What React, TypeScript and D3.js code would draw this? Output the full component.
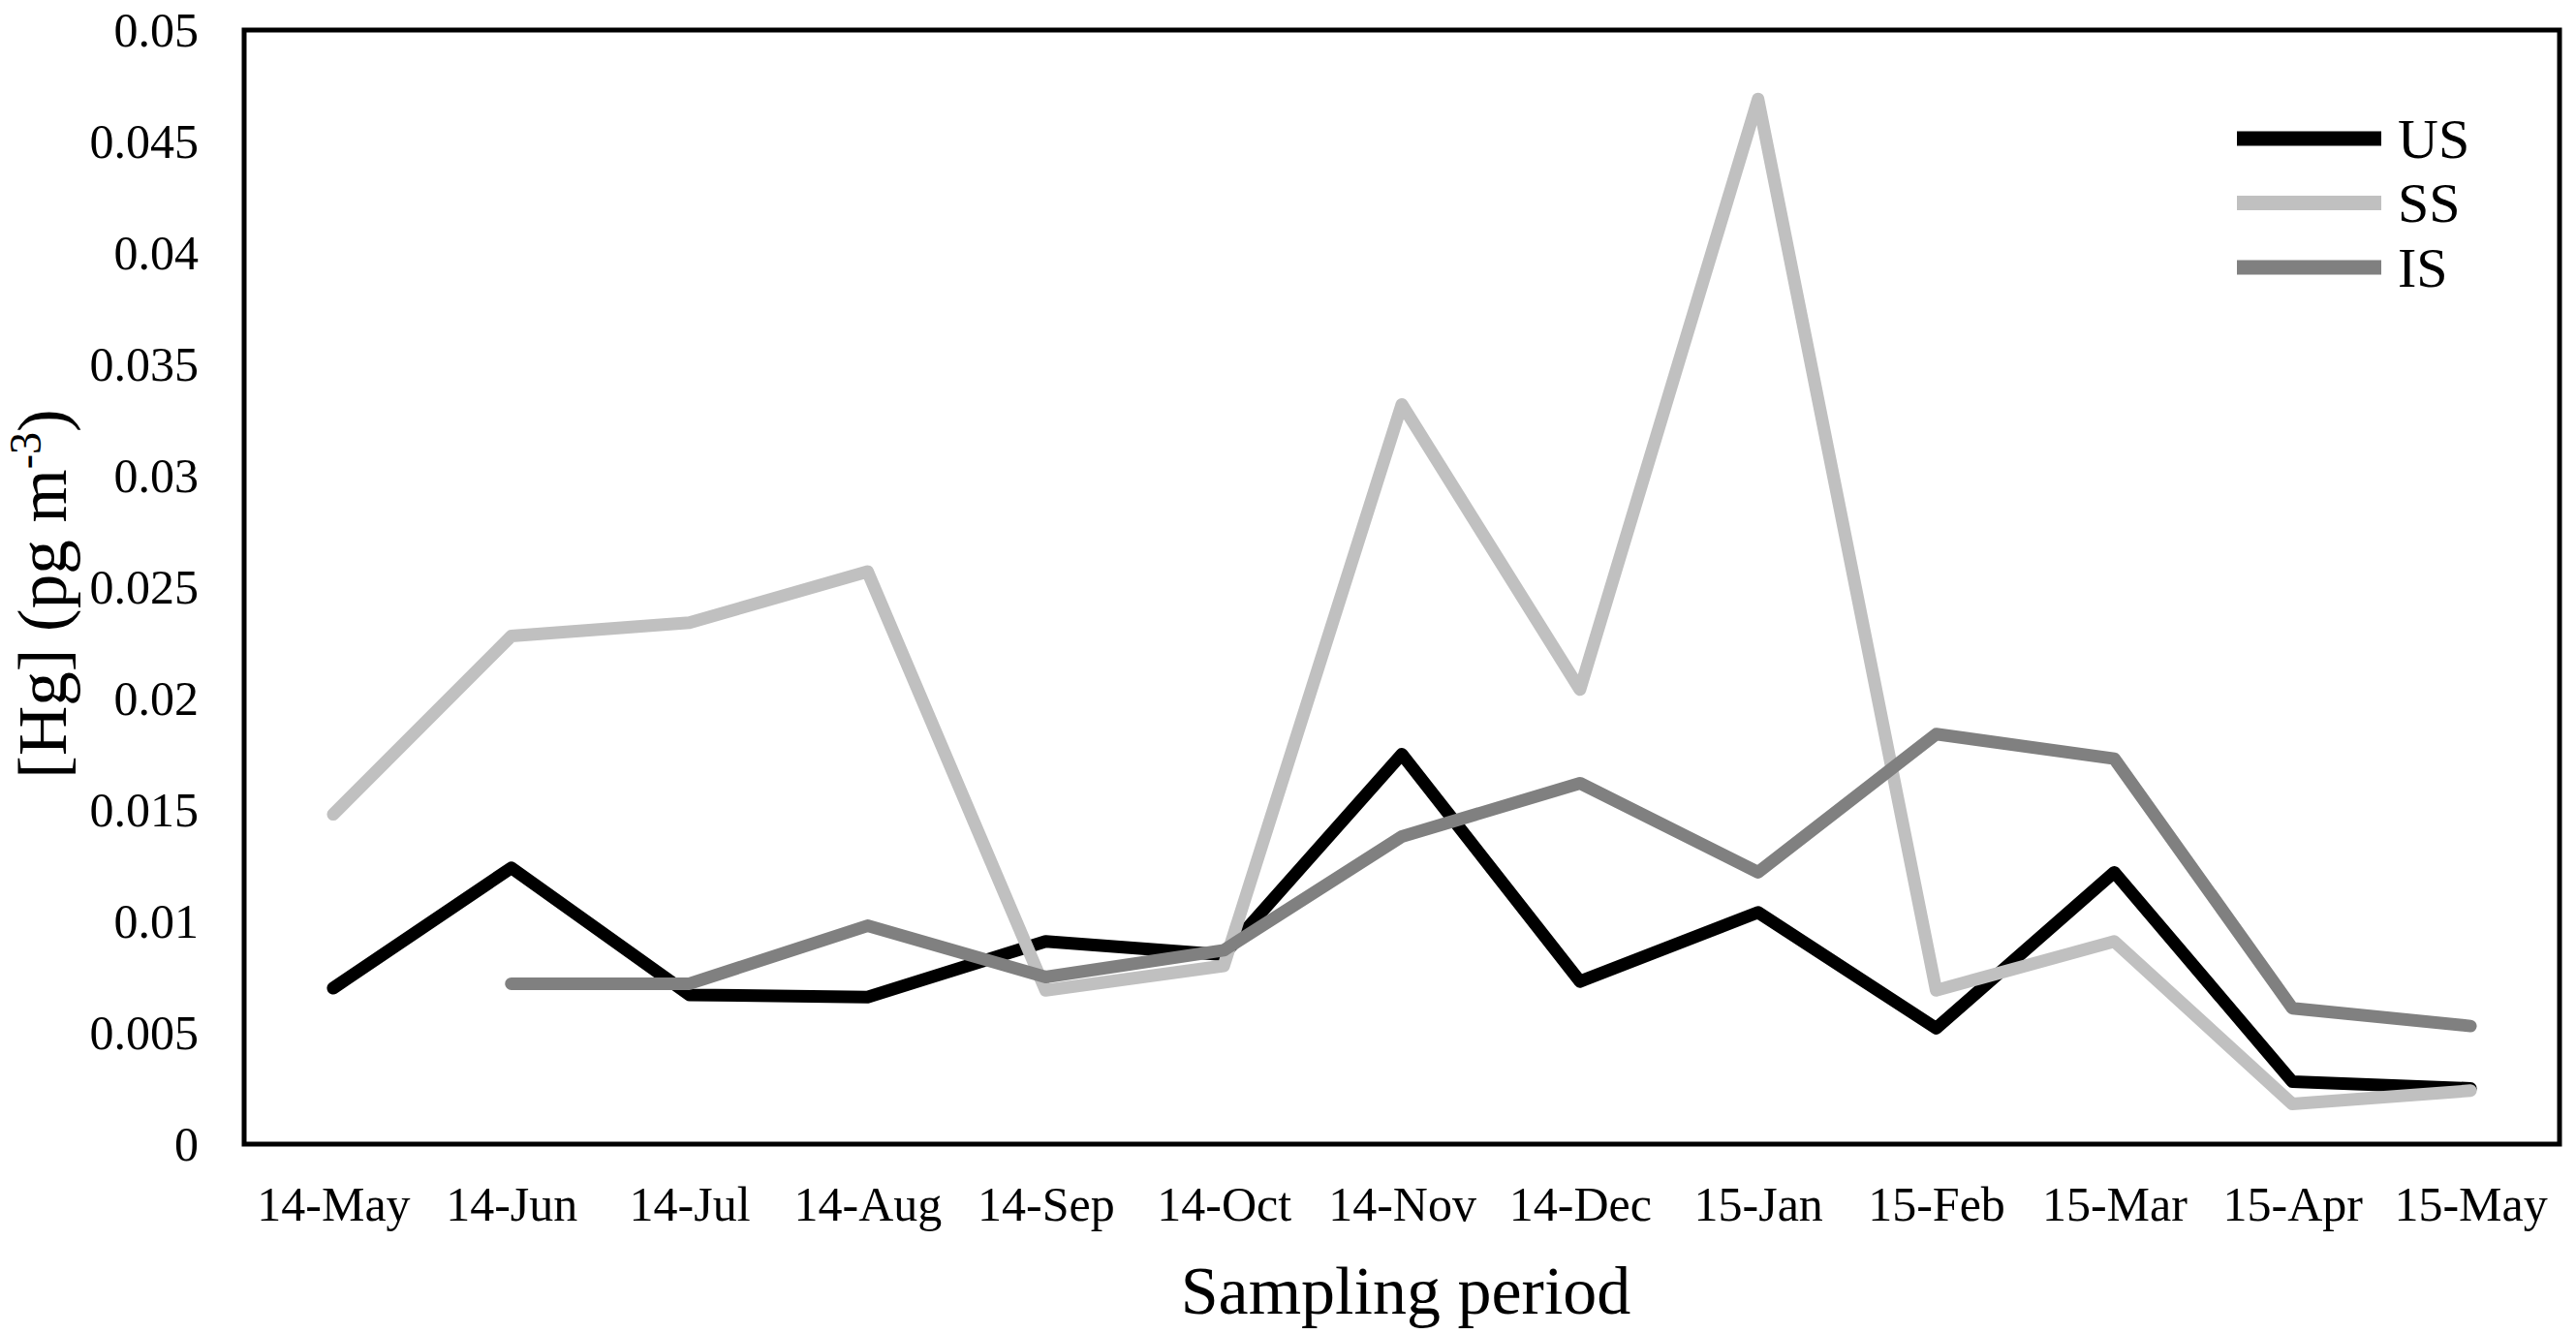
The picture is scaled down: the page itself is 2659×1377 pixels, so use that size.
import { axisBottom, axisLeft, line, scaleLinear, scalePoint, select } from 'd3';
import React, { useEffect, useRef } from 'react';

const WIDTH = 2659;
const HEIGHT = 1377;
const PLOT_LEFT = 252;
const PLOT_RIGHT = 2642;
const PLOT_TOP = 31;
const PLOT_BOTTOM = 1181;
const FONT = '"Liberation Serif", "Times New Roman", serif';

const categories = [
  '14-May', '14-Jun', '14-Jul', '14-Aug', '14-Sep', '14-Oct', '14-Nov',
  '14-Dec', '15-Jan', '15-Feb', '15-Mar', '15-Apr', '15-May',
];

const usValues = [
  0.007, 0.0124, 0.0067, 0.0066, 0.0091, 0.0085, 0.0175,
  0.0073, 0.0104, 0.0052, 0.0122, 0.0028, 0.0025,
];
const ssValues = [
  0.0148, 0.0228, 0.0234, 0.0257, 0.0069, 0.008, 0.0332,
  0.0204, 0.0469, 0.0069, 0.0091, 0.0018, 0.0024,
];
const isValues: (number | null)[] = [
  null, 0.0072, 0.0072, 0.0098, 0.0075, 0.0087, 0.0138,
  0.0162, 0.0122, 0.0184, 0.0173, 0.0061, 0.0053,
];

const seriesNames = ['US', 'SS', 'IS'];
const seriesColors = ['#000000', '#c0c0c0', '#808080'];

const yTicks = [0, 0.005, 0.01, 0.015, 0.02, 0.025, 0.03, 0.035, 0.04, 0.045, 0.05];
const yTickLabels = ['0', '0.005', '0.01', '0.015', '0.02', '0.025', '0.03', '0.035', '0.04', '0.045', '0.05'];

const App = (): JSX.Element => {
  const ref = useRef<SVGSVGElement>(null);

  useEffect(() => {
    if (ref.current === null) return;
    document.body.style.margin = '0';
    ref.current.replaceChildren();

    const x = scalePoint<string>()
      .domain(categories)
      .range([PLOT_LEFT, PLOT_RIGHT])
      .padding(0.5);
    const y = scaleLinear().domain([0, 0.05]).range([PLOT_BOTTOM, PLOT_TOP]);

    const svg = select(ref.current)
      .attr('width', WIDTH)
      .attr('height', HEIGHT)
      .attr('viewBox', [0, 0, WIDTH, HEIGHT])
      .style('display', 'block')
      .style('background', '#fff');

    // y-axis labels (no ticks, no domain)
    svg
      .append('g')
      .attr('transform', `translate(${PLOT_LEFT}, 0)`)
      .call(
        axisLeft(y)
          .tickValues(yTicks)
          .tickSize(0)
          .tickPadding(47)
          .tickFormat((_, i) => yTickLabels[i]),
      )
      .call((g) => g.select('.domain').remove())
      .call((g) => g.selectAll('text').attr('font-family', FONT).attr('font-size', 50).attr('fill', '#000'));

    // x-axis labels
    svg
      .append('g')
      .attr('transform', `translate(0, ${PLOT_BOTTOM})`)
      .call(axisBottom(x).tickSize(0).tickPadding(43))
      .call((g) => g.select('.domain').remove())
      .call((g) => g.selectAll('text').attr('font-family', FONT).attr('font-size', 50).attr('fill', '#000'));

    // series lines
    const series = [usValues, ssValues, isValues];
    const path = line<number | null>()
      .defined((d) => d !== null)
      .x((_, i) => x(categories[i]) as number)
      .y((d) => y(d as number));

    svg
      .append('g')
      .selectAll('path')
      .data(series)
      .join('path')
      .attr('d', (d) => path(d))
      .attr('fill', 'none')
      .attr('stroke', (_, i) => seriesColors[i])
      .attr('stroke-width', 13)
      .attr('stroke-linejoin', 'round')
      .attr('stroke-linecap', 'round');

    // plot frame
    svg
      .append('rect')
      .attr('x', PLOT_LEFT)
      .attr('y', PLOT_TOP)
      .attr('width', PLOT_RIGHT - PLOT_LEFT)
      .attr('height', PLOT_BOTTOM - PLOT_TOP)
      .attr('fill', 'none')
      .attr('stroke', '#000')
      .attr('stroke-width', 5);

    // legend
    const legend = svg
      .append('g')
      .selectAll('g')
      .data(seriesNames)
      .join('g')
      .attr('transform', (_, i) => `translate(2309, ${143 + i * 66.5})`);
    legend
      .append('line')
      .attr('x1', 0)
      .attr('x2', 149)
      .attr('stroke', (_, i) => seriesColors[i])
      .attr('stroke-width', 15);
    legend
      .append('text')
      .attr('x', 166)
      .attr('dy', '0.34em')
      .attr('font-family', FONT)
      .attr('font-size', 58)
      .text((d) => d);

    // axis titles
    svg
      .append('text')
      .attr('x', (PLOT_LEFT + PLOT_RIGHT) / 2 + 4)
      .attr('y', 1356)
      .attr('text-anchor', 'middle')
      .attr('font-family', FONT)
      .attr('font-size', 70)
      .text('Sampling period');

    const yTitle = svg
      .append('text')
      .attr('transform', `translate(68, 613) rotate(-90)`)
      .attr('text-anchor', 'middle')
      .attr('font-family', FONT)
      .attr('font-size', 71);
    yTitle.append('tspan').text('[Hg] (pg m');
    yTitle.append('tspan').attr('font-size', 46).attr('dy', -26).text('-3');
    yTitle.append('tspan').attr('dy', 26).text(')');
  }, [ref]);

  return <svg ref={ref} />;
};

export default App;
